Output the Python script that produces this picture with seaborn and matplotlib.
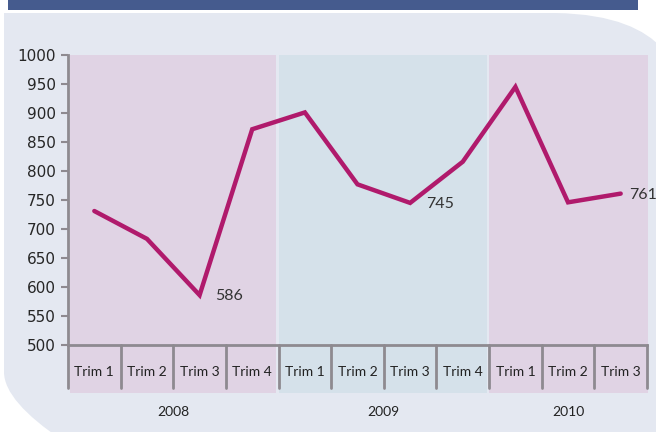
import numpy as np
import pandas as pd
import seaborn as sns
import matplotlib.pyplot as plt
from matplotlib.path import Path
from matplotlib.patches import PathPatch, Rectangle
from matplotlib.transforms import Affine2D

# chart data
years = ["2008", "2009", "2010"]
quarters_per_year = [4, 4, 3]
quarter_labels = ["Trim 1", "Trim 2", "Trim 3", "Trim 4",
                  "Trim 1", "Trim 2", "Trim 3", "Trim 4",
                  "Trim 1", "Trim 2", "Trim 3"]
values = [731, 683, 586, 872, 901, 777, 745, 816, 945, 746, 761]
labelled = {2: "586", 6: "745", 10: "761"}
yticks = [500, 550, 600, 650, 700, 750, 800, 850, 900, 950, 1000]

band_colors = ["#e0d3e4", "#d5e1ea", "#e0d3e4"]
line_color = "#b01a6c"
axis_gray = "#8e8a90"
panel_color = "#e4e8f1"


def draw_panel(fig):
    # rounded background card, drawn in pixel coordinates
    W, H = 656, 432
    tr = Affine2D().scale(1 / W, -1 / H).translate(0, 1) + fig.transFigure
    verts = [(4, 13), (555, 13),
             (615, 14), (645, 30), (662, 48),
             (662, 440), (62, 440),
             (25, 415), (4, 392), (4, 372),
             (4, 13)]
    codes = [Path.MOVETO, Path.LINETO,
             Path.CURVE4, Path.CURVE4, Path.CURVE4,
             Path.LINETO, Path.LINETO,
             Path.CURVE4, Path.CURVE4, Path.CURVE4,
             Path.CLOSEPOLY]
    fig.patches.append(PathPatch(Path(verts, codes), transform=tr,
                                 facecolor=panel_color, edgecolor="none", zorder=-2))
    fig.patches.append(Rectangle((8, 0), 630, 10, transform=tr,
                                 facecolor="#455b8e", edgecolor="none", zorder=-1))


def main():
    sns.set_style("white")
    df = pd.DataFrame({"pos": np.arange(len(values)), "value": values})

    fig = plt.figure(figsize=(6.56, 4.32), dpi=100, facecolor="white")
    draw_panel(fig)
    ax = fig.add_axes([68 / 656, 87 / 432, 579 / 656, 290 / 432])
    ax.set_facecolor("none")

    # year bands reaching down into the category area
    start = 0
    for i, n in enumerate(quarters_per_year):
        x0 = start - 0.5 + (0.04 if i == 0 else 0)
        x1 = start + n - 0.5 - (0.04 if i < len(years) - 1 else -0.02)
        ax.add_patch(Rectangle((x0, -0.166), x1 - x0, 1.166,
                               transform=ax.get_xaxis_transform(),
                               facecolor=band_colors[i], edgecolor="none",
                               clip_on=False, zorder=0))
        ax.text(start + (n - 1) / 2, -0.231, years[i],
                transform=ax.get_xaxis_transform(), ha="center", va="center",
                fontsize=10, family="Lato", color="#222222")
        start += n

    # category separators and labels
    for k in range(len(values) + 1):
        ax.plot([k - 0.5, k - 0.5], [0, -0.148], transform=ax.get_xaxis_transform(),
                color=axis_gray, lw=2, clip_on=False, zorder=2)
    for k, lab in enumerate(quarter_labels):
        ax.text(k, -0.093, lab, transform=ax.get_xaxis_transform(),
                ha="center", va="center", fontsize=10, family="Lato", color="#222222")

    sns.lineplot(data=df, x="pos", y="value", color=line_color, lw=3.2,
                 ax=ax, zorder=3)
    ax.lines[-1].set_solid_joinstyle("miter")

    for idx, txt in labelled.items():
        ax.annotate(txt, (idx, values[idx]), xytext=(16 if idx < 10 else 8, -1),
                    textcoords="offset pixels", ha="left", va="center",
                    fontsize=11.5, family="Lato", color="#333333",
                    annotation_clip=False)

    ax.set_xlim(-0.5, len(values) - 0.5)
    ax.set_ylim(500, 1000)
    ax.set_yticks(yticks)
    ax.set_xticks([])
    ax.set_xlabel("")
    ax.set_ylabel("")
    ax.tick_params(axis="y", direction="out", length=5, width=1.5, color=axis_gray,
                   labelsize=11, pad=4, left=True)
    for lab in ax.get_yticklabels():
        lab.set_family("DejaVu Sans")
    for side in ["top", "right"]:
        ax.spines[side].set_visible(False)
    for side in ["left", "bottom"]:
        ax.spines[side].set_color(axis_gray)
        ax.spines[side].set_linewidth(2)
    ax.spines["bottom"].set_zorder(2)

    fig.savefig("out.png", dpi=100)


if __name__ == "__main__":
    main()
